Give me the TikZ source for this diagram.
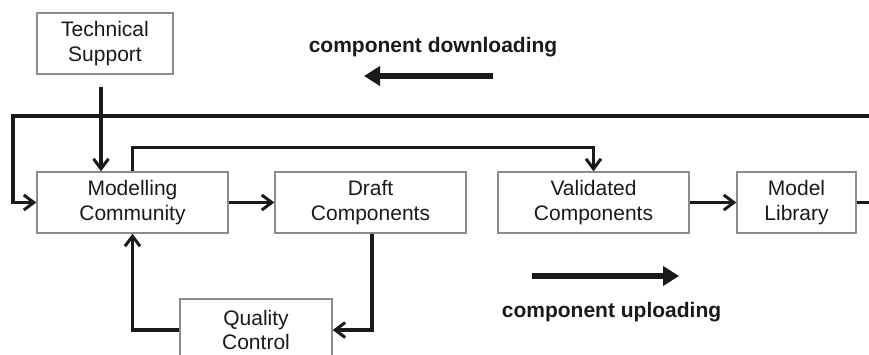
\documentclass[tikz,border=0pt]{standalone}
\usepackage{fontspec}
\setmainfont{Liberation Sans}
\usetikzlibrary{arrows.meta}
\definecolor{ink}{HTML}{1A1A1A}
\definecolor{frame}{HTML}{8C8C8C}
\tikzset{
  box/.style={draw=frame, line width=1.4pt, fill=white, text=ink,
    align=center, inner sep=0pt, minimum height=61pt,
    font=\fontsize{21}{24.5}\selectfont},
  conn/.style={draw=ink, line width=3.2pt, line cap=butt,
    -{Straight Barb[length=10pt, width=15pt, line width=3pt]}},
  bigarrow/.style={draw=ink, line width=5.5pt,
    -{Triangle[length=16pt, width=19pt]}},
  caption/.style={text=ink, anchor=base, inner sep=0pt,
    font=\fontsize{21}{24}\selectfont\bfseries}
}
\begin{document}
\begin{tikzpicture}[x=1pt, y=-1pt]
  \useasboundingbox (0,0) rectangle (869,354);
  \clip (0,0) rectangle (869,354);

  % process boxes
  \node[box, minimum width=136pt] (ts) at (105,43.5) {Technical\\Support};
  \node[box, minimum width=191pt] (mc) at (132.5,202.5) {Modelling\\Community};
  \node[box, minimum width=191pt] (dc) at (370.5,202.5) {Draft\\Components};
  \node[box, minimum width=191pt] (vc) at (593.5,202.5) {Validated\\Components};
  \node[box, minimum width=119pt] (ml) at (796.5,202.5) {Model\\Library};
  \node[box, minimum width=152pt, minimum height=62pt] (qc) at (256,330) {Quality\\Control};

  % turning points of the feedback loop from the library
  \coordinate (rightturn) at (895,116);
  \coordinate (leftturn) at (13,116);

  % connectors
  \draw[conn, shorten <=12pt] ([xshift=-4pt]ts.south) -- ([xshift=-4pt]ts.south |- mc.north);
  \draw[conn] (mc.east) -- (dc.west);
  \draw[conn] (mc.north) -- ++(0,-24) -| (vc.north);
  \draw[conn] (vc.east) -- (ml.west);
  \draw[conn] (ml.east) -| (rightturn) -- (leftturn) |- (mc.west);
  \draw[conn] ([xshift=1.5pt]dc.south) |- (qc.east);
  \draw[conn] (qc.west) -| (mc.south);

  % direction labels
  \node[caption] (down) at (433,52) {component downloading};
  \draw[bigarrow] (493,76) -- (364,76);
  \node[caption] (up) at (611.5,317) {component uploading};
  \draw[bigarrow] (532,276) -- (679,276);
\end{tikzpicture}
\end{document}
